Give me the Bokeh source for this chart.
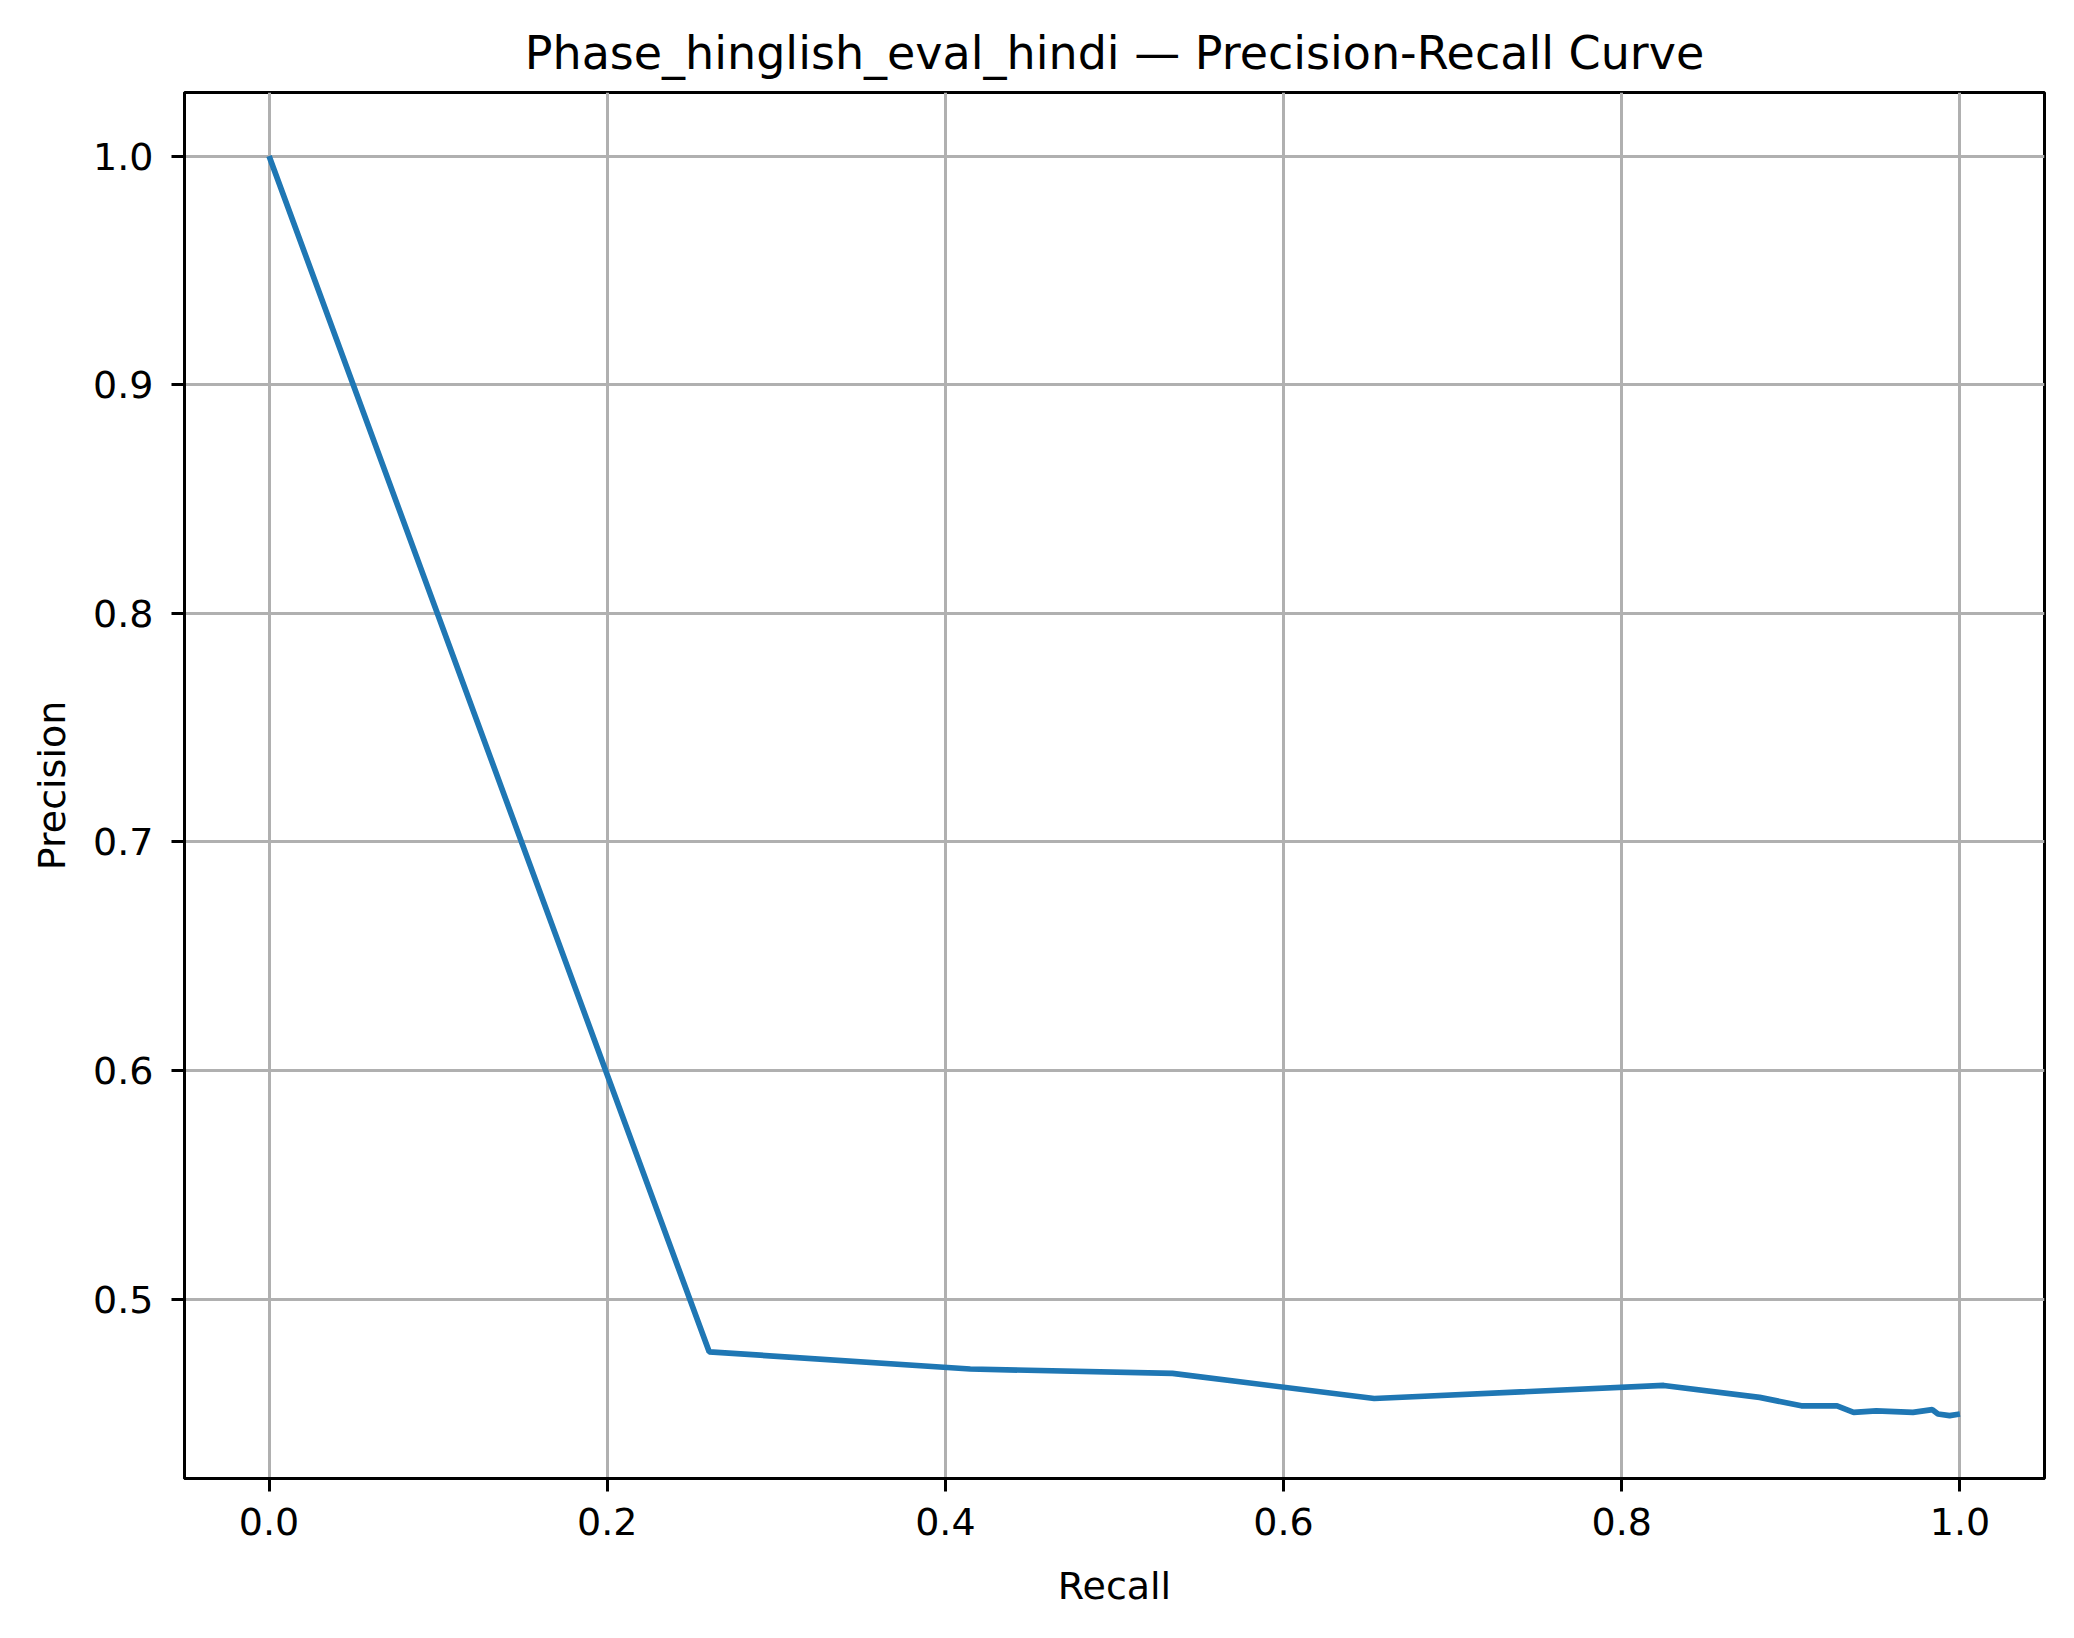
from bokeh.plotting import figure
from bokeh.models import Range1d, FixedTicker, NumeralTickFormatter
from bokeh.embed import file_html
from bokeh.resources import INLINE

title_text = "Phase_hinglish_eval_hindi \u2014 Precision-Recall Curve"
x_label = "Recall"
y_label = "Precision"

recall = [0.0, 0.2603, 0.4147, 0.5343, 0.6536, 0.8248, 0.8815, 0.9062, 0.9273,
          0.9371, 0.9505, 0.9722, 0.9837, 0.9870, 0.9939, 1.0]
precision = [1.0, 0.4769, 0.4694, 0.4675, 0.4565, 0.4622, 0.4570, 0.4533, 0.4533,
             0.4504, 0.4511, 0.4504, 0.4516, 0.4497, 0.4490, 0.4497]

x_ticks = [0.0, 0.2, 0.4, 0.6, 0.8, 1.0]
y_ticks = [0.5, 0.6, 0.7, 0.8, 0.9, 1.0]

FONT = "DejaVu Sans"

p = figure(width=2058, height=1622, output_backend="svg", toolbar_location=None,
           x_range=Range1d(-0.05, 1.05), y_range=Range1d(0.4215, 1.0278),
           min_border_left=184, min_border_right=14, min_border_top=92,
           min_border_bottom=144, title=title_text)

p.background_fill_color = "white"
p.border_fill_color = "white"
p.outline_line_color = "black"
p.outline_line_width = 3

p.title.text_font = FONT
p.title.text_font_size = "46px"
p.title.text_font_style = "normal"
p.title.text_color = "black"
p.title.align = "center"
p.title.standoff = 25

for ax, ticks in ((p.xaxis[0], x_ticks), (p.yaxis[0], y_ticks)):
    ax.ticker = FixedTicker(ticks=ticks)
    ax.formatter = NumeralTickFormatter(format="0.0")
    ax.minor_tick_line_color = None
    ax.major_tick_in = 0
    ax.major_tick_out = 13
    ax.major_tick_line_width = 3
    ax.major_tick_line_color = "black"
    ax.axis_line_width = 3
    ax.axis_line_color = "black"
    ax.major_label_text_font = FONT
    ax.major_label_text_font_size = "38px"
    ax.major_label_text_color = "black"
    ax.axis_label_text_font = FONT
    ax.axis_label_text_font_size = "38px"
    ax.axis_label_text_font_style = "normal"
    ax.axis_label_text_color = "black"

p.xaxis[0].major_label_standoff = 16
p.xaxis[0].axis_label_standoff = 26
p.yaxis[0].major_label_standoff = 18
p.yaxis[0].axis_label_standoff = 16

p.xaxis.axis_label = x_label
p.yaxis.axis_label = y_label

p.xgrid.ticker = FixedTicker(ticks=x_ticks)
p.ygrid.ticker = FixedTicker(ticks=y_ticks)
for g in (p.xgrid[0], p.ygrid[0]):
    g.grid_line_color = "#b0b0b0"
    g.grid_line_width = 3

p.line(recall, precision, line_color="#1f77b4", line_width=5.7)

open("out.html", "w").write(file_html(p, INLINE))
